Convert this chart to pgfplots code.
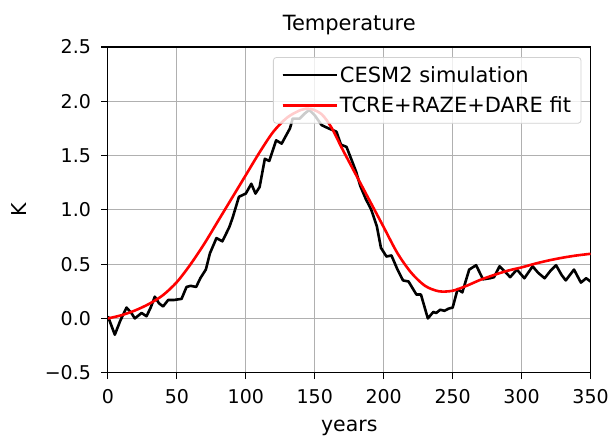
\documentclass[border=0pt]{standalone}
\usepackage{fontspec}
\setmainfont{DejaVu Sans}
\usepackage{pgfplots}
\pgfplotsset{compat=1.18}

% CESM2 simulated global mean temperature anomaly (K)
\pgfplotstableread{
year T
0 0.02
5 -0.15
9 -0.02
13.5 0.10
17 0.05
19.5 0.00
24.4 0.05
28 0.02
31 0.10
34 0.20
37 0.14
40 0.11
43.7 0.17
48 0.17
53.4 0.18
57 0.29
60 0.30
64 0.29
67 0.37
71 0.45
74 0.60
78.7 0.74
83 0.71
88 0.84
90.5 0.93
95 1.12
100 1.15
104 1.24
107 1.15
110 1.21
113.8 1.47
117 1.45
122 1.64
126 1.61
132 1.75
134 1.84
139 1.84
143 1.89
146 1.92
150 1.87
155 1.78
160 1.75
165.7 1.72
169 1.60
173 1.58
177 1.45
180 1.35
183 1.22
187 1.10
191 1.00
195 0.85
198 0.65
202 0.57
205.6 0.58
210 0.45
214 0.35
218 0.34
223.7 0.22
227 0.22
232 0.00
236 0.06
238 0.05
241 0.08
244 0.07
247 0.09
250 0.10
253.6 0.27
257 0.24
262 0.45
267 0.49
272 0.36
277 0.37
280 0.38
284 0.48
288 0.43
291.7 0.38
296.6 0.45
302 0.37
308 0.48
312 0.42
316.7 0.37
321 0.44
325 0.49
329 0.40
332 0.35
338 0.45
343 0.33
346.8 0.37
350 0.34
}\cesm

% Fitted response (TCRE+RAZE+DARE)
\pgfplotstableread{
year T
0 0.00
10 0.03
20 0.075
30 0.135
40 0.215
50 0.335
60 0.50
70 0.69
80 0.90
90 1.11
100 1.32
110 1.53
120 1.72
130 1.85
140 1.92
147 1.93
155 1.88
162 1.76
170 1.56
180 1.32
190 1.08
200 0.84
210 0.60
220 0.42
230 0.30
240 0.25
250 0.255
260 0.30
270 0.355
280 0.40
290 0.44
300 0.47
310 0.505
320 0.535
330 0.56
340 0.58
350 0.595
}\fit

\begin{document}
\begin{tikzpicture}
\begin{axis}[
  scale only axis,
  width=483bp, height=326bp,
  xmin=0, xmax=350, ymin=-0.5, ymax=2.5,
  xtick={0,50,...,350},
  ytick={-0.5,0,0.5,1,1.5,2,2.5},
  yticklabels={−0.5,0.0,0.5,1.0,1.5,2.0,2.5},
  tick pos=left,
  tick align=outside,
  major tick length=6.5bp,
  tick style={black, line width=1.1bp},
  axis line style={line width=1.1bp},
  grid=major,
  grid style={color=black!31, line width=1.1bp},
  /pgf/number format/assume math mode=true,
  tick label style={font=\fontsize{19bp}{22bp}\selectfont},
  xticklabel style={yshift=-7bp},
  yticklabel style={xshift=-7bp},
  label style={font=\fontsize{20.5bp}{24bp}\selectfont},
  xlabel={years},
  ylabel={K},
  xlabel style={yshift=-9bp},
  ylabel style={yshift=11bp},
  title={Temperature},
  title style={font=\fontsize{21bp}{25bp}\selectfont, yshift=3bp},
  legend cell align=left,
  legend style={at={(rel axis cs:0.981,0.969)}, anchor=north east,
    font=\fontsize{21bp}{25bp}\selectfont,
    draw=black!18, fill=white, fill opacity=0.8, text opacity=1,
    rounded corners=3bp, line width=0.8bp,
    inner xsep=8bp, inner ysep=7bp, row sep=9bp},
  legend image code/.code={\draw[#1] (0bp,0bp) -- (47bp,0bp);
    \path (0bp,0bp) -- (54bp,0bp);},
]
\addplot[black, line width=2.6bp, line join=round] table[x=year,y=T]{\cesm};
\addlegendentry{CESM2 simulation}
\addplot[red, line width=2.6bp, smooth] table[x=year,y=T]{\fit};
\addlegendentry{TCRE+RAZE+DARE fit}
\end{axis}
\path ([xshift=-108bp,yshift=-65bp]current axis.south west) rectangle ([xshift=21bp,yshift=47bp]current axis.north east);
\end{tikzpicture}
\end{document}
